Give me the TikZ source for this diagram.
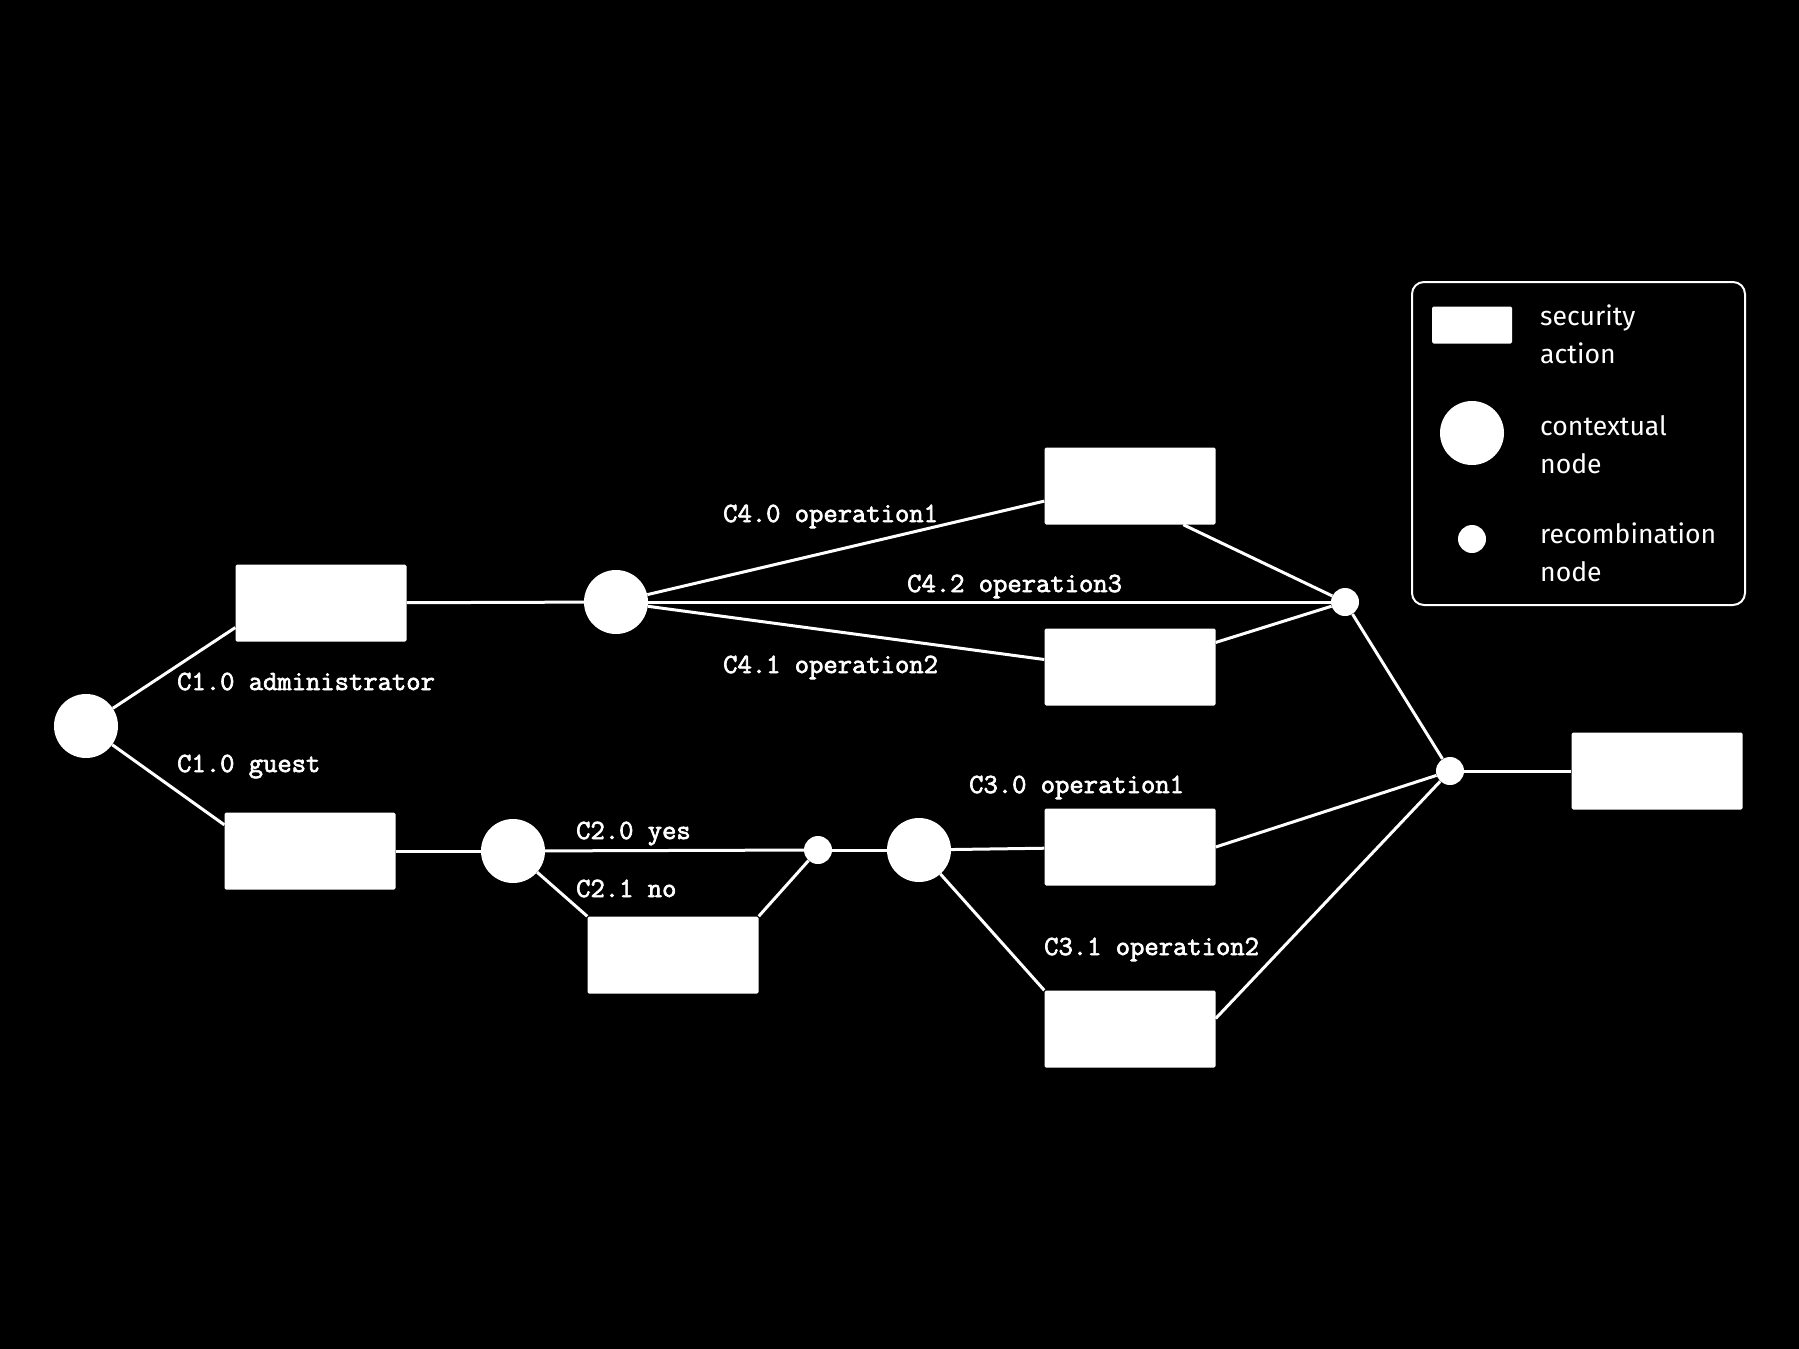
\documentclass[tikz,border=0pt]{standalone}
\usepackage{fontspec}
\newfontfamily\labelfont[FakeBold=2.5]{Latin Modern Mono}
\newfontfamily\legendfont{Fira Sans}

\begin{document}
\begin{tikzpicture}[x=1pt,y=-1pt,
	action/.style={rectangle,fill=white,minimum width=171pt,minimum height=77pt,inner sep=0pt,rounded corners=1.5pt},
	context/.style={circle,fill=white,minimum size=64pt,inner sep=0pt},
	recomb/.style={circle,fill=white,minimum size=28pt,inner sep=0pt},
	edge/.style={draw=white,line width=3pt},
	cond/.style={anchor=base west,text=white,inner sep=0pt,font=\labelfont\fontsize{27.8}{27}\selectfont},
	legend/.style={anchor=base west,text=white,inner sep=0pt,align=left,font=\legendfont\fontsize{26.6}{38}\selectfont}
	]
	\fill[black] (0,0) rectangle (1799,1349);
	
	\node[context] (root) at (86,726) {};
	\node[action] (admin) at (321,603) {};
	\node[action] (guest) at (310,851) {};
	
	\node[context] (ctxop) at (616,602) {};
	\node[action] (opA) at (1130,486) {};
	\node[action] (opB) at (1130,667) {};
	\node[recomb] (joinop) at (1345,602) {};
	
	\node[context] (ctxyes) at (513,851) {};
	\node[action] (no) at (673,955) {};
	\node[recomb] (joinyes) at (818,850) {};
	\node[context] (ctxop2) at (919,850) {};
	\node[action] (opC) at (1130,847) {};
	\node[action] (opD) at (1130,1029) {};
	
	\node[recomb] (joinall) at (1450,771) {};
	\node[action] (final) at (1657,771) {};
	
	\draw[edge] (root) -- (admin.196);
	\draw[edge] (root) -- (guest.163);
	\draw[edge] (admin) -- (ctxop);
	\draw[edge] (ctxop) -- (opA.190);
	\draw[edge] (ctxop) -- (opB.175);
	\draw[edge] (ctxop) -- (joinop);
	\draw[edge] (opA.324) -- (joinop);
	\draw[edge] (opB.16) -- (joinop);
	\draw[edge] (joinop) -- (joinall);
	\draw[edge] (guest) -- (ctxyes);
	\draw[edge] (ctxyes) -- (joinyes);
	\draw[edge] (ctxyes) -- (no.north west);
	\draw[edge] (no.north east) -- (joinyes);
	\draw[edge] (joinyes) -- (ctxop2);
	\draw[edge] (ctxop2) -- (opC);
	\draw[edge] (ctxop2) -- (opD.north west);
	\draw[edge] (opC.east) -- (joinall);
	\draw[edge] (opD.7) -- (joinall);
	\draw[edge] (joinall) -- (final);
	
	% condition labels
	\node[cond] (lbladmin) at (177,690) {C1.0 administrator};
	\node[cond] (lblguest) at (177,772) {C1.0 guest};
	\node[cond] (lblop1) at (723,522) {C4.0 operation1};
	\node[cond] (lblop3) at (907,592) {C4.2 operation3};
	\node[cond] (lblop2) at (723,673) {C4.1 operation2};
	\node[cond] (lblyes) at (576,839) {C2.0 yes};
	\node[cond] (lblno) at (576,897) {C2.1 no};
	\node[cond] (lblop1b) at (969,793) {C3.0 operation1};
	\node[cond] (lblop2b) at (1044,955) {C3.1 operation2};
	
	% legend
	\draw[white,line width=2pt,rounded corners=12pt] (1412,282) rectangle (1745,605);
	\node[action,minimum width=80pt,minimum height=37pt] (keyaction) at (1472,325) {};
	\node[context] (keycontext) at (1472,433) {};
	\node[recomb] (keyrecomb) at (1472,539) {};
	\node[legend] (txtaction) at (1540,363) {security\\action};
	\node[legend] (txtcontext) at (1540,473) {contextual\\node};
	\node[legend] (txtrecomb) at (1540,581) {recombination\\node};
\end{tikzpicture}
\end{document}
